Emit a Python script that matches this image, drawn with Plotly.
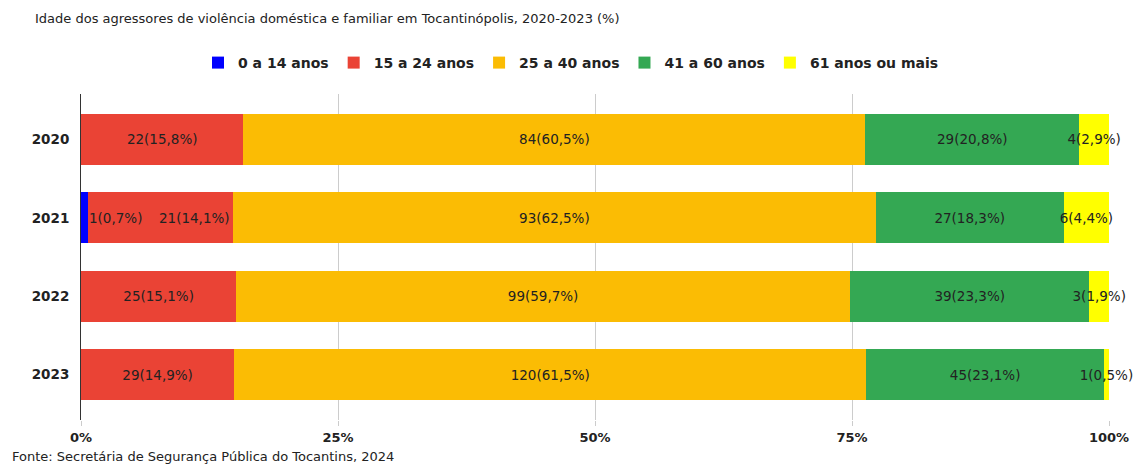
import plotly.graph_objects as go

# data
years = ["2020", "2021", "2022", "2023"]
groups = ["0 a 14 anos", "15 a 24 anos", "25 a 40 anos", "41 a 60 anos", "61 anos ou mais"]
colors = ["#0000FF", "#EA4335", "#FBBC04", "#34A853", "#FFFF00"]

pct_0_14 = [0, 0.7, 0, 0]
pct_15_24 = [15.8, 14.1, 15.1, 14.9]
pct_25_40 = [60.5, 62.5, 59.7, 61.5]
pct_41_60 = [20.8, 18.3, 23.3, 23.1]
pct_61 = [2.9, 4.4, 1.9, 0.5]

n_0_14 = [0, 1, 0, 0]
n_15_24 = [22, 21, 25, 29]
n_25_40 = [84, 93, 99, 120]
n_41_60 = [29, 27, 39, 45]
n_61 = [4, 6, 3, 1]

pcts = [pct_0_14, pct_15_24, pct_25_40, pct_41_60, pct_61]
counts = [n_0_14, n_15_24, n_25_40, n_41_60, n_61]

FONT = "DejaVu Sans"
TXT = "#222222"
LABEL_FONT = dict(family=FONT, size=13.5, color=TXT)


def label(n, p):
    if n == 0:
        return ""
    return f"{n}({p:.1f}%)".replace(".", ",")


fig = go.Figure()
for i, g in enumerate(groups):
    texts = [label(n, p) for n, p in zip(counts[i], pcts[i])]
    if i <= 1:
        # first two labels go in annotations when a 0-14 value exists (drawn on top)
        texts = ["" if (i == 0 or n_0_14[k] > 0) else t for k, t in enumerate(texts)]
    fig.add_bar(
        y=years, x=[p / 100 for p in pcts[i]],
        name=g, orientation="h",
        marker=dict(color=colors[i], line_width=0),
        text=texts,
        textposition="inside", textangle=0,
        insidetextanchor="middle",
        textfont=LABEL_FONT,
        constraintext="none",
        cliponaxis=False,
        width=0.65,
    )

# overflow labels for rows with a 0-14 segment
for k, y in enumerate(years):
    if n_0_14[k] > 0:
        fig.add_annotation(x=0, y=k, text=label(n_0_14[k], pct_0_14[k]),
                           xanchor="left", xshift=6, showarrow=False, font=LABEL_FONT)
        fig.add_annotation(x=(pct_0_14[k] + pct_15_24[k]) / 100, y=k,
                           text=label(n_15_24[k], pct_15_24[k]),
                           xanchor="right", xshift=-1, showarrow=False, font=LABEL_FONT)

fig.update_layout(
    barmode="stack",
    width=1139, height=466,
    margin=dict(l=81, r=30, t=94, b=46),
    plot_bgcolor="white", paper_bgcolor="white",
    uniformtext=dict(minsize=13.5, mode="show"),
    title=dict(
        text="Idade dos agressores de violência doméstica e familiar em Tocantinópolis, 2020-2023 (%)",
        xref="container", x=35 / 1139, xanchor="left",
        yref="container", y=1 - 18 / 466, yanchor="middle",
        font=dict(family=FONT, size=13, color=TXT),
    ),
    legend=dict(
        orientation="h",
        xref="container", x=571 / 1139, xanchor="center",
        yref="container", y=1 - 63 / 466, yanchor="middle",
        font=dict(family=FONT, size=14, color=TXT, weight="bold"),
        traceorder="normal",
        itemclick=False,
    ),
    xaxis=dict(
        range=[0, 1], tickvals=[0, 0.25, 0.5, 0.75, 1], tickformat=".0%",
        showgrid=True, gridcolor="#CCCCCC", gridwidth=1,
        zeroline=False, automargin=False,
        ticks="outside", ticklen=5, tickcolor="#CCCCCC",
        tickfont=dict(family=FONT, size=13, color=TXT, weight="bold"),
    ),
    yaxis=dict(
        type="category",
        categoryorder="array", categoryarray=years,
        autorange=False, range=[3.58, -0.58],
        showline=True, linecolor="#333333", linewidth=1,
        ticks="", ticklabelstandoff=8, automargin=False,
        tickfont=dict(family=FONT, size=13.5, color=TXT, weight="bold"),
    ),
)

fig.add_annotation(
    text="Fonte: Secretária de Segurança Pública do Tocantins, 2024",
    xref="paper", x=(10 - 81) / 1028, xanchor="left",
    yref="paper", y=0, yanchor="bottom", yshift=-46,
    showarrow=False,
    font=dict(family=FONT, size=13, color=TXT),
)

fig.write_html("out.html", config={"displayModeBar": False},
               post_script="document.body.style.margin='0';")
